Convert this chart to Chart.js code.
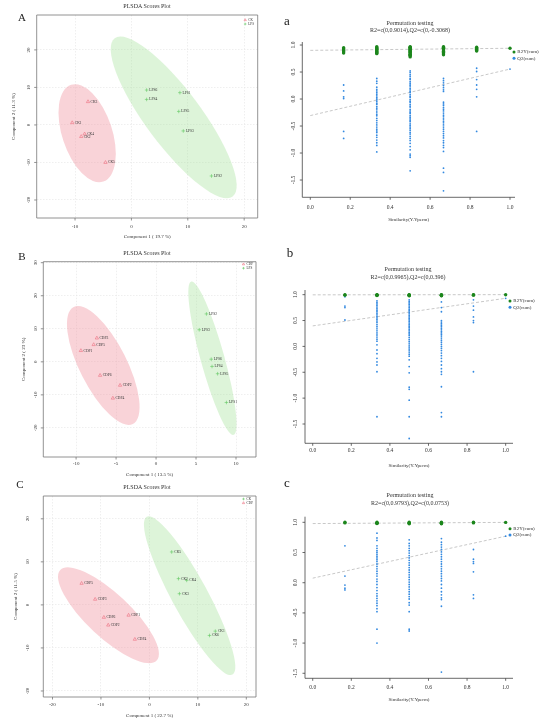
<!DOCTYPE html>
<html>
<head>
<meta charset="utf-8">
<script src="https://cdn.jsdelivr.net/npm/chart.js@4.4.1/dist/chart.umd.min.js"></script>
<style>
  body { margin: 0; background: #fff; }
  #page { position: relative; width: 550px; height: 726px; overflow: hidden; font-family: "Liberation Serif", "DejaVu Serif", serif; color: #222; }
  canvas { position: absolute; }
  .txt { position: absolute; line-height: 1; white-space: nowrap; transform: translate(-50%, -50%); }
  .big { font-size: 11px; }
  .low { font-size: 13px; }
  .ttl { font-size: 6px; color: #333; }
</style>
</head>
<body>
<div id="page">
  <canvas id="cA" width="275" height="245" style="left:0;top:0"></canvas>
  <canvas id="cB" width="275" height="235" style="left:0;top:245px"></canvas>
  <canvas id="cC" width="275" height="246" style="left:0;top:480px"></canvas>
  <canvas id="ca" width="275" height="230" style="left:275px;top:0"></canvas>
  <canvas id="cb" width="275" height="240" style="left:275px;top:230px"></canvas>
  <canvas id="cc" width="275" height="256" style="left:275px;top:470px"></canvas>

  <div class="txt big" style="left:22px;top:17px">A</div>
  <div class="txt big" style="left:22px;top:256px">B</div>
  <div class="txt big" style="left:20px;top:484px">C</div>
  <div class="txt low" style="left:287px;top:20px">a</div>
  <div class="txt low" style="left:290px;top:252px">b</div>
  <div class="txt low" style="left:287px;top:482px">c</div>

  <div class="txt ttl" style="left:147px;top:6px">PLSDA Scores Plot</div>
  <div class="txt ttl" style="left:147px;top:253px">PLSDA Scores Plot</div>
  <div class="txt ttl" style="left:147px;top:487px">PLSDA Scores Plot</div>

  <div class="txt ttl" style="left:410px;top:23px">Permutation testing</div>
  <div class="txt ttl" style="left:410px;top:29.5px">R2=c(0,0.9014),Q2=c(0,-0.3068)</div>
  <div class="txt ttl" style="left:408px;top:269px">Permutation testing</div>
  <div class="txt ttl" style="left:408px;top:276.5px">R2=c(0,0.9965),Q2=c(0,0.396)</div>
  <div class="txt ttl" style="left:410px;top:495px">Permutation testing</div>
  <div class="txt ttl" style="left:410px;top:503px">R2=c(0,0.9793),Q2=c(0,0.0753)</div>
</div>

<script>
// ---------- PLSDA scores ----------
// A: CK vs LPS
const A_ckNames = ['CK3', 'CK1', 'CK4', 'CK2', 'CK5'];
const A_ckX = [-7.7, -10.5, -8.3, -8.9, -4.6];
const A_ckY = [6.2, 0.6, -2.4, -3.1, -10.0];
const A_lpsNames = ['LPS6', 'LPS4', 'LPS1', 'LPS5', 'LPS3', 'LPS2'];
const A_lpsX = [2.7, 2.7, 8.6, 8.4, 9.2, 14.2];
const A_lpsY = [9.3, 6.8, 8.6, 3.6, -1.6, -13.6];
// ellipse: centre x, centre y, end of long axis x, y, short/long ratio
const A_ellCK = [-7.85, -2.2, -10.7, 10.7, 0.49];
const A_ellLPS = [7.5, 2.0, -2.96, 23.1, 0.28];
const A_xTicks = [-10, 0, 10, 20];
const A_yTicks = [-20, -10, 0, 10, 20];

// B: CDP vs LPS
const B_cdpNames = ['CDP3', 'CDP5', 'CDP1', 'CDP6', 'CDP2', 'CDP4'];
const B_cdpX = [-7.4, -7.8, -9.4, -7.0, -4.5, -5.4];
const B_cdpY = [7.2, 5.2, 3.4, -4.1, -7.1, -11.0];
const B_lpsNames = ['LPS2', 'LPS3', 'LPS6', 'LPS4', 'LPS5', 'LPS1'];
const B_lpsX = [6.3, 5.4, 6.9, 7.0, 7.7, 8.8];
const B_lpsY = [14.5, 9.7, 0.8, -1.4, -3.6, -12.3];
const B_ellCDP = [-6.6, -1.1, -10.3, 16.6, 0.36];
const B_ellLPS = [7.05, 1.1, 4.4, 24.3, 0.15];
const B_xTicks = [-10, -5, 0, 5, 10];
const B_yTicks = [-20, -10, 0, 10, 20, 30];

// C: CK vs CDP
const C_ckNames = ['CK5', 'CK2', 'CK4', 'CK3', 'CK1', 'CK6'];
const C_ckX = [4.6, 6.0, 7.7, 6.2, 13.6, 12.4];
const C_ckY = [12.3, 6.1, 5.7, 2.6, -6.1, -7.1];
const C_cdpNames = ['CDP5', 'CDP3', 'CDP6', 'CDP1', 'CDP2', 'CDP4'];
const C_cdpX = [-14.0, -11.2, -9.4, -4.3, -8.5, -3.0];
const C_cdpY = [5.0, 1.3, -2.9, -2.4, -4.7, -8.0];
const C_ellCDP = [-8.45, -2.4, -18.4, 8.1, 0.33];
const C_ellCK = [8.3, 2.15, -0.55, 20.5, 0.2];
const C_xTicks = [-20, -10, 0, 10, 20];
const C_yTicks = [-20, -10, 0, 10, 20];

// ---------- permutation tests ----------
const simLevels = [0.167, 0.333, 0.5, 0.667, 0.833, 1.0];
const permXTicks = [0, 0.2, 0.4, 0.6, 0.8, 1.0];
const permYTicks = [-1.5, -1.0, -0.5, 0, 0.5, 1.0];

const a_R2 = [
  [0.95, 0.93, 0.91, 0.89, 0.87, 0.85],
  [0.97, 0.95, 0.94, 0.92, 0.91, 0.89, 0.88, 0.86, 0.85, 0.84],
  [0.97, 0.96, 0.95, 0.94, 0.92, 0.91, 0.90, 0.88, 0.87, 0.86, 0.84, 0.83, 0.81, 0.80, 0.78],
  [0.97, 0.96, 0.94, 0.93, 0.91, 0.89, 0.88, 0.86, 0.84, 0.82],
  [0.96, 0.94, 0.92, 0.90, 0.89],
  [0.94]
];
const a_Q2 = [
  [0.26, 0.15, 0.04, 0.01, -0.60, -0.73],
  [0.38, 0.33, 0.29, 0.22, 0.18, 0.15, 0.12, 0.09, 0.06, 0.03, 0.00, -0.02, -0.05, -0.08, -0.10, -0.14, -0.17, -0.20,
   -0.24, -0.28, -0.31, -0.36, -0.40, -0.44, -0.48, -0.52, -0.56, -0.59, -0.62, -0.67, -0.71, -0.76, -0.81, -0.86, -0.98],
  [0.52, 0.49, 0.45, 0.42, 0.38, 0.36, 0.32, 0.29, 0.26, 0.24, 0.20, 0.17, 0.14, 0.12, 0.08, 0.05, 0.03, -0.01, -0.04,
   -0.06, -0.10, -0.13, -0.15, -0.19, -0.22, -0.25, -0.27, -0.31, -0.34, -0.37, -0.40, -0.42, -0.46, -0.49, -0.52,
   -0.55, -0.58, -0.62, -0.65, -0.69, -0.73, -0.77, -0.82, -0.88, -0.94, -1.02, -1.05, -1.08, -1.33],
  [0.38, 0.34, 0.30, 0.25, 0.21, 0.17, 0.14, -0.06, -0.09, -0.12, -0.16, -0.19, -0.22, -0.26, -0.30, -0.33, -0.37,
   -0.41, -0.44, -0.48, -0.52, -0.56, -0.60, -0.64, -0.68, -0.72, -0.77, -0.81, -0.86, -0.90, -0.97, -1.28, -1.36, -1.70],
  [0.57, 0.51, 0.36, 0.26, 0.18, 0.04, -0.60],
  [0.555]
];
const a_R2line = [0.9014, 0.94];
const a_Q2line = [-0.3068, 0.555];

const b_R2 = [
  [1.0, 0.99],
  [1.0, 0.995, 0.99, 0.985],
  [1.0, 0.995, 0.99, 0.985, 0.98],
  [1.0, 0.995, 0.99, 0.985, 0.98],
  [1.0, 0.995, 0.99],
  [0.999]
];
const b_Q2 = [
  [0.96, 0.78, 0.75, 0.51],
  [0.88, 0.85, 0.82, 0.79, 0.76, 0.73, 0.70, 0.67, 0.64, 0.61, 0.58, 0.55, 0.52, 0.49, 0.46, 0.42, 0.38, 0.34, 0.30,
   0.26, 0.22, 0.18, 0.14, 0.10, 0.03, -0.07, -0.14, -0.23, -0.30, -0.36, -0.49, -1.36],
  [0.90, 0.87, 0.84, 0.81, 0.78, 0.75, 0.72, 0.69, 0.66, 0.63, 0.60, 0.57, 0.54, 0.51, 0.48, 0.45, 0.42, 0.39, 0.36,
   0.33, 0.30, 0.27, 0.24, 0.21, 0.17, 0.13, 0.09, 0.05, 0.01, -0.03, -0.07, -0.11, -0.15, -0.19, -0.26, -0.39,
   -0.51, -0.79, -0.83, -1.04, -1.36, -1.78],
  [0.86, 0.75, 0.67, 0.50, 0.47, 0.44, 0.41, 0.38, 0.35, 0.32, 0.29, 0.26, 0.23, 0.20, 0.16, 0.12, 0.08, 0.04, 0.00,
   -0.04, -0.08, -0.13, -0.18, -0.23, -0.29, -0.36, -0.43, -0.49, -0.54, -0.78, -1.28, -1.36],
  [0.90, 0.78, 0.70, 0.57, 0.50, 0.46, -0.49],
  [0.93]
];
const b_R2line = [0.9965, 1.0];
const b_Q2line = [0.396, 0.93];

const c_R2 = [
  [1.0, 0.99],
  [1.0, 0.99, 0.985, 0.98],
  [1.0, 0.99, 0.985, 0.975],
  [1.0, 0.99, 0.985, 0.975],
  [1.0, 0.99],
  [0.999]
];
const c_Q2 = [
  [0.61, 0.11, -0.04, -0.09, -0.12],
  [0.82, 0.74, 0.70, 0.61, 0.57, 0.53, 0.50, 0.47, 0.44, 0.41, 0.38, 0.35, 0.31, 0.27, 0.23, 0.19, 0.15, 0.11, 0.06,
   0.02, -0.03, -0.08, -0.13, -0.18, -0.22, -0.26, -0.30, -0.34, -0.38, -0.43, -0.48, -0.77, -1.00],
  [0.71, 0.65, 0.61, 0.57, 0.53, 0.49, 0.45, 0.41, 0.37, 0.33, 0.29, 0.25, 0.21, 0.17, 0.13, 0.09, 0.05, 0.01, -0.03,
   -0.07, -0.11, -0.15, -0.19, -0.23, -0.27, -0.33, -0.37, -0.48, -0.77, -0.80],
  [0.73, 0.67, 0.63, 0.59, 0.55, 0.51, 0.47, 0.43, 0.39, 0.35, 0.31, 0.27, 0.23, 0.19, 0.15, 0.11, 0.07, 0.03, -0.03,
   -0.09, -0.15, -0.20, -0.25, -0.28, -0.39, -1.48],
  [0.55, 0.39, 0.35, 0.32, 0.18, -0.20, -0.26],
  [0.77]
];
const c_R2line = [0.9793, 0.999];
const c_Q2line = [0.0753, 0.77];

// ---------- styles ----------
const RED_PT = '#ec6f80';
const GREEN_PT = '#62c862';
const RED_FILL = 'rgba(240,150,162,0.42)';
const GREEN_FILL = 'rgba(160,224,150,0.36)';
const R2_COL = '#1c861c';
const Q2_COL = '#3389e0';
const FONT = '"Liberation Serif", "DejaVu Serif", serif';

const pts = (xs, ys) => xs.map((v, i) => ({ x: v, y: ys[i] }));
const permPts = (cols) => cols.flatMap((col, i) => col.map(v => ({ x: simLevels[i], y: v })));

function drawMarker(ctx, kind, color, x, y, r) {
  ctx.save();
  ctx.beginPath();
  if (kind === 'tri') {
    ctx.strokeStyle = color; ctx.lineWidth = 0.6;
    ctx.moveTo(x, y - r); ctx.lineTo(x + r * 0.87, y + r * 0.5); ctx.lineTo(x - r * 0.87, y + r * 0.5); ctx.closePath();
    ctx.stroke();
  } else if (kind === 'plus') {
    ctx.strokeStyle = color; ctx.lineWidth = 0.6;
    ctx.moveTo(x - r, y); ctx.lineTo(x + r, y); ctx.moveTo(x, y - r); ctx.lineTo(x, y + r);
    ctx.stroke();
  } else {
    ctx.fillStyle = color;
    ctx.arc(x, y, r, 0, Math.PI * 2);
    ctx.fill();
  }
  ctx.restore();
}

// axes, labels, ellipses and legend in the R look
function deco(cfg) {
  return {
    id: 'deco',
    beforeDatasetsDraw(chart) {
      if (!cfg.ellipses) return;
      const { ctx, chartArea: a, scales: { x, y } } = chart;
      ctx.save();
      ctx.beginPath(); ctx.rect(a.left, a.top, a.width, a.height); ctx.clip();
      cfg.ellipses.forEach(([e, fill]) => {
        const cx = x.getPixelForValue(e[0]), cy = y.getPixelForValue(e[1]);
        const ex = x.getPixelForValue(e[2]), ey = y.getPixelForValue(e[3]);
        const r = Math.hypot(ex - cx, ey - cy);
        ctx.beginPath();
        ctx.ellipse(cx, cy, r, r * e[4], Math.atan2(ey - cy, ex - cx), 0, Math.PI * 2);
        ctx.fillStyle = fill;
        ctx.fill();
      });
      ctx.restore();
    },
    afterDatasetsDraw(chart) {
      if (!cfg.names) return;
      const { ctx } = chart;
      ctx.save();
      ctx.font = '3.6px ' + FONT;
      ctx.fillStyle = '#333';
      ctx.textAlign = 'left';
      ctx.textBaseline = 'middle';
      cfg.names.forEach((names, di) => {
        chart.getDatasetMeta(di).data.forEach((p, i) => ctx.fillText(names[i], p.x + 2.6, p.y));
      });
      ctx.restore();
    },
    afterDraw(chart) {
      const { ctx, chartArea: a, scales: { x, y } } = chart;
      ctx.save();
      ctx.strokeStyle = cfg.box ? '#777' : '#444';
      ctx.lineWidth = 0.8;
      ctx.beginPath();
      if (cfg.box) {
        ctx.rect(a.left, a.top, a.width, a.height);
      } else {
        ctx.moveTo(a.left, a.top); ctx.lineTo(a.left, a.bottom); ctx.lineTo(a.right, a.bottom);
      }
      x.ticks.forEach(t => { const px = x.getPixelForValue(t.value); ctx.moveTo(px, a.bottom); ctx.lineTo(px, a.bottom + 2.5); });
      y.ticks.forEach(t => { const py = y.getPixelForValue(t.value); ctx.moveTo(a.left, py); ctx.lineTo(a.left - 2.5, py); });
      ctx.stroke();

      ctx.fillStyle = '#333';
      ctx.textAlign = 'center';
      ctx.textBaseline = 'middle';
      ctx.font = cfg.tickSize + 'px ' + FONT;
      x.ticks.forEach(t => ctx.fillText(cfg.fmt(t.value), x.getPixelForValue(t.value), a.bottom + cfg.xLab));
      y.ticks.forEach(t => {
        ctx.save();
        ctx.translate(a.left - cfg.yLab, y.getPixelForValue(t.value));
        ctx.rotate(-Math.PI / 2);
        ctx.fillText(cfg.fmt(t.value), 0, 0);
        ctx.restore();
      });
      ctx.font = '5px ' + FONT;
      ctx.fillText(cfg.xTitle, (a.left + a.right) / 2, a.bottom + cfg.xTit);
      if (cfg.yTitle) {
        ctx.save();
        ctx.translate(a.left - cfg.yTit, (a.top + a.bottom) / 2);
        ctx.rotate(-Math.PI / 2);
        ctx.fillText(cfg.yTitle, 0, 0);
        ctx.restore();
      }

      // legend
      const lg = cfg.legend;
      ctx.font = lg.size + 'px ' + FONT;
      ctx.textAlign = 'left';
      lg.items.forEach((it, i) => {
        const lx = a.right + lg.dx, ly = a.top + lg.dy + i * lg.gap;
        drawMarker(ctx, it.kind, it.color, lx, ly, lg.r);
        ctx.fillStyle = '#333';
        ctx.fillText(it.text, lx + lg.r + 1.8, ly);
      });
      ctx.restore();
    }
  };
}

function fixedScale(min, max, ticks, size, isX, grid) {
  return {
    type: 'linear',
    min: min,
    max: max,
    afterBuildTicks: s => { s.ticks = ticks.map(v => ({ value: v })); },
    afterFit: s => { if (isX) s.height = size; else s.width = size; },
    ticks: { display: false },
    grid: grid ? { color: '#e4e4e4', lineWidth: 0.6, drawTicks: false } : { display: false },
    border: { display: false, dash: [1.5, 1.5] }
  };
}

function plsda(id, p) {
  new Chart(document.getElementById(id), {
    type: 'scatter',
    data: {
      datasets: p.groups.map(g => ({
        data: pts(g.x, g.y),
        pointStyle: g.kind === 'tri' ? 'triangle' : 'cross',
        pointRadius: g.kind === 'tri' ? 1.9 : 1.8,
        borderWidth: 0.6,
        borderColor: g.color,
        backgroundColor: 'rgba(0,0,0,0)'
      }))
    },
    options: {
      responsive: false,
      animation: false,
      events: [],
      layout: { padding: { top: p.pad[0], right: p.pad[1], bottom: 0, left: 0 } },
      plugins: { legend: { display: false }, tooltip: { enabled: false } },
      scales: {
        x: fixedScale(p.xr[0], p.xr[1], p.xTicks, p.axH, true, true),
        y: fixedScale(p.yr[0], p.yr[1], p.yTicks, p.axW, false, true)
      }
    },
    plugins: [deco({
      box: true,
      ellipses: p.ellipses,
      names: p.groups.map(g => g.names),
      fmt: v => String(v),
      tickSize: 5,
      xLab: p.off[0], xTit: p.off[1], yLab: p.off[2], yTit: p.off[3],
      xTitle: p.xTitle, yTitle: p.yTitle,
      legend: {
        dx: -12.5, dy: p.legDy, gap: 4, r: 1.3, size: 3.3,
        items: p.groups.map(g => ({ kind: g.kind, color: g.color, text: g.label }))
      }
    })]
  });
}

function perm(id, p) {
  new Chart(document.getElementById(id), {
    type: 'scatter',
    data: {
      datasets: [
        { data: permPts(p.R2), pointRadius: 1.7, borderWidth: 0, backgroundColor: R2_COL },
        { data: permPts(p.Q2), pointRadius: 0.9, borderWidth: 0, backgroundColor: Q2_COL },
        { data: [{ x: 0, y: p.R2line[0] }, { x: 1, y: p.R2line[1] }], showLine: true, pointRadius: 0,
          borderColor: '#c8c8c8', borderWidth: 1, borderDash: [3, 2] },
        { data: [{ x: 0, y: p.Q2line[0] }, { x: 1, y: p.Q2line[1] }], showLine: true, pointRadius: 0,
          borderColor: '#c8c8c8', borderWidth: 1, borderDash: [3, 2] }
      ]
    },
    options: {
      responsive: false,
      animation: false,
      events: [],
      clip: false,
      layout: { padding: { top: p.pad[0], right: p.pad[1], bottom: 0, left: 0 } },
      plugins: { legend: { display: false }, tooltip: { enabled: false } },
      scales: {
        x: fixedScale(p.xr[0], p.xr[1], permXTicks, p.axH, true, false),
        y: fixedScale(p.yr[0], p.yr[1], permYTicks, p.axW, false, false)
      }
    },
    plugins: [deco({
      box: false,
      fmt: v => v.toFixed(1),
      tickSize: 5.5,
      xLab: p.off[0], xTit: p.off[1], yLab: p.off[2],
      xTitle: 'Similarity(Y.Yperm)',
      legend: {
        dx: p.legDx, dy: p.legDy, gap: 6.2, r: 1.5, size: 5,
        items: [
          { kind: 'dot', color: R2_COL, text: 'R2Y(cum)' },
          { kind: 'dot', color: Q2_COL, text: 'Q2(cum)' }
        ]
      }
    })]
  });
}

plsda('cA', {
  groups: [
    { label: 'CK', kind: 'tri', color: RED_PT, names: A_ckNames, x: A_ckX, y: A_ckY },
    { label: 'LPS', kind: 'plus', color: GREEN_PT, names: A_lpsNames, x: A_lpsX, y: A_lpsY }
  ],
  ellipses: [[A_ellCK, RED_FILL], [A_ellLPS, GREEN_FILL]],
  xTicks: A_xTicks, yTicks: A_yTicks,
  xr: [-16.8, 22.4], yr: [-24.8, 29.3],
  pad: [15, 17.3], axW: 36.7, axH: 27,
  off: [9, 19, 8.5, 23.5], legDy: 5,
  xTitle: 'Component 1 ( 19.7 %)', yTitle: 'Component 2 ( 11.3 %)'
});

plsda('cB', {
  groups: [
    { label: 'CDP', kind: 'tri', color: RED_PT, names: B_cdpNames, x: B_cdpX, y: B_cdpY },
    { label: 'LPS', kind: 'plus', color: GREEN_PT, names: B_lpsNames, x: B_lpsX, y: B_lpsY }
  ],
  ellipses: [[B_ellCDP, RED_FILL], [B_ellLPS, GREEN_FILL]],
  xTicks: B_xTicks, yTicks: B_yTicks,
  xr: [-14.1, 12.5], yr: [-28.8, 30.3],
  pad: [16.7, 19], axW: 43.3, axH: 23,
  off: [6.3, 18, 8, 20], legDy: 2.5,
  xTitle: 'Component 1 ( 13.5 %)', yTitle: 'Component 2 ( 23 %)'
});

plsda('cC', {
  groups: [
    { label: 'CK', kind: 'plus', color: GREEN_PT, names: C_ckNames, x: C_ckX, y: C_ckY },
    { label: 'CDP', kind: 'tri', color: RED_PT, names: C_cdpNames, x: C_cdpX, y: C_cdpY }
  ],
  ellipses: [[C_ellCDP, RED_FILL], [C_ellCK, GREEN_FILL]],
  xTicks: C_xTicks, yTicks: C_yTicks,
  xr: [-21.9, 22.0], yr: [-21.4, 25.3],
  pad: [16, 19], axW: 43.3, axH: 29,
  off: [8, 19, 16, 28], legDy: 3,
  xTitle: 'Component 1 ( 22.7 %)', yTitle: 'Component 2 ( 11.5 %)'
});

perm('ca', {
  R2: a_R2, Q2: a_Q2, R2line: a_R2line, Q2line: a_Q2line,
  xr: [-0.04, 1.025], yr: [-1.82, 1.056],
  pad: [42, 35], axW: 27.3, axH: 32.7,
  off: [10, 22, 9], legDx: -1, legDy: 10
});

perm('cb', {
  R2: b_R2, Q2: b_Q2, R2line: b_R2line, Q2line: b_Q2line,
  xr: [-0.04, 1.038], yr: [-1.873, 1.09],
  pad: [60, 37], axW: 30, axH: 26.7,
  off: [7.5, 22.7, 9], legDx: -3, legDy: 11
});

perm('cc', {
  R2: c_R2, Q2: c_Q2, R2line: c_R2line, Q2line: c_Q2line,
  xr: [-0.04, 1.038], yr: [-1.583, 1.093],
  pad: [46.7, 37], axW: 30, axH: 47.7,
  off: [9.7, 21.7, 9], legDx: -3, legDy: 12
});
</script>
</body>
</html>
